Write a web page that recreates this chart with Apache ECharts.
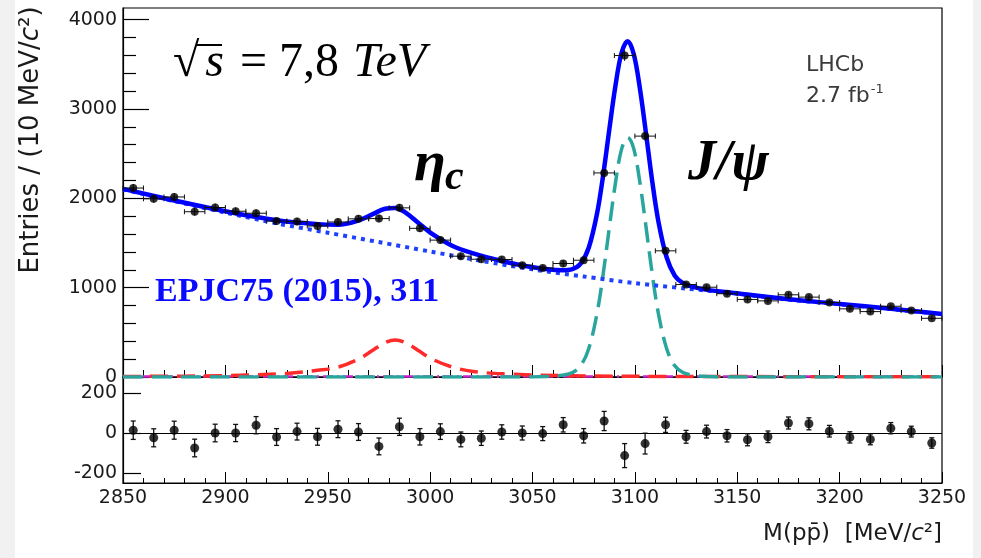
<!DOCTYPE html>
<html>
<head>
<meta charset="utf-8">
<script src="https://cdn.jsdelivr.net/npm/echarts@6/dist/echarts.min.js"></script>
<style>
  html, body { margin: 0; padding: 0; }
  #chart {
    width: 981px; height: 558px;
    background: linear-gradient(to right, #f1f1f1 0, #f1f1f1 15px, #ffffff 15px, #ffffff 973px, #f1f1f1 973px);
  }
</style>
</head>
<body>
<div id="chart"></div>
<script>
// ---- p pbar invariant-mass spectrum, 10 MeV/c^2 bins ----
const binCentres = [2855, 2865, 2875, 2885, 2895, 2905, 2915, 2925, 2935, 2945,
                    2955, 2965, 2975, 2985, 2995, 3005, 3015, 3025, 3035, 3045,
                    3055, 3065, 3075, 3085, 3095, 3105, 3115, 3125, 3135, 3145,
                    3155, 3165, 3175, 3185, 3195, 3205, 3215, 3225, 3235, 3245];
const binHalfWidth = 5;
const entries = [2115, 1995, 2015, 1850, 1897, 1855, 1833, 1745, 1740, 1690,
                 1735, 1770, 1773, 1893, 1664, 1532, 1352, 1318, 1315, 1251,
                 1220, 1270, 1307, 2284, 3598, 2696, 1412, 1035, 1005, 932,
                 868, 852, 920, 894, 834, 763, 732, 792, 744, 657];
const entryErrors = [46, 45, 45, 44, 44, 43, 43, 42, 42, 42,
                     42, 42, 42, 43, 41, 39, 37, 36, 36, 35,
                     35, 36, 36, 48, 60, 52, 38, 32, 32, 31,
                     30, 29, 30, 30, 29, 28, 27, 28, 27, 26];
// data minus fit, lower panel
const residuals = [14, -24, 14, -75, 0, 0, 39, -20, 7, -19,
                   19, 5, -67, 31, -19, 7, -32, -26, 5, 0,
                   -3, 41, -14, 60, -113, -53, 41, -19, 7, -14,
                   -34, -19, 50, 46, 9, -22, -32, 24, 7, -50];

// fit components, [mass, entries]
const backgroundCurve = [[2850, 2100], [2875, 1968], [2900, 1840], [2925, 1720], [2950, 1615],
                         [2975, 1510], [3000, 1405], [3025, 1300], [3050, 1205], [3075, 1125],
                         [3100, 1050], [3125, 990], [3150, 932], [3175, 866], [3200, 815],
                         [3225, 760], [3250, 704]];
const etacCurve = [[2850, 6], [2900, 15], [2930, 40], [2945, 75], [2955, 110], [2965, 200],
                   [2972, 300], [2978, 385], [2983, 415], [2988, 385], [2994, 300], [3001, 200],
                   [3011, 110], [3021, 62], [3036, 35], [3066, 15], [3120, 6], [3250, 3]];
const jpsiCurve = [[2850, 0], [3046.5, 0], [3058.5, 5], [3064.5, 20], [3069.5, 50], [3073.5, 125],
                   [3077.5, 320], [3081.5, 710], [3084.5, 1150], [3087.5, 1670], [3090.5, 2170],
                   [3093.5, 2550], [3096.5, 2680], [3099.5, 2550], [3102.5, 2170], [3105.5, 1670],
                   [3108.5, 1150], [3111.5, 710], [3115.5, 320], [3119.5, 125], [3123.5, 50],
                   [3128.5, 20], [3134.5, 5], [3146.5, 0], [3250, 0]];
const otherCurve = [[2850, 6], [3250, 6]];
const totalCurve = [[2850, 2106], [2875, 1976], [2900, 1855], [2925, 1755], [2945, 1711],
                    [2955, 1704], [2965, 1752], [2972, 1823], [2978, 1883], [2983, 1892],
                    [2988, 1840], [2994, 1730], [3001, 1601], [3011, 1466], [3021, 1383],
                    [3036, 1293], [3046.5, 1243], [3058.5, 1202], [3064.5, 1195], [3069.5, 1207],
                    [3073.5, 1268], [3077.5, 1450], [3081.5, 1827], [3084.5, 2257], [3087.5, 2768],
                    [3090.5, 3258], [3093.5, 3629], [3096.5, 3759], [3099.5, 3610], [3102.5, 3222],
                    [3105.5, 2715], [3108.5, 2187], [3111.5, 1739], [3115.5, 1340], [3119.5, 1134],
                    [3123.5, 1050], [3128.5, 1008], [3134.5, 978], [3146.5, 945], [3175, 870],
                    [3200, 818], [3225, 763], [3250, 706]];

// axis ticks
const massRange = [2850, 3250];
const massStep = 50;
const countTicks = [0, 1000, 2000, 3000, 4000];
const countMax = 4130;
const residualTicks = [-200, 0, 200];
const residualRange = [-250, 280];

const AXIS_FONT = 'DejaVu Sans';
const plainNumber = v => String(v);
const chart = echarts.init(document.getElementById('chart'), null, { renderer: 'canvas' });

const gridLeft = 123, gridWidth = 819, upperTop = 8, upperHeight = 369, lowerHeight = 106;
const tickGridHeight = upperHeight * countTicks[countTicks.length - 1] / countMax;

function dataPointBars(params, api) {
  const x = api.value(0), y = api.value(1), e = api.value(2);
  const l = api.coord([x - binHalfWidth, y]);
  const r = api.coord([x + binHalfWidth, y]);
  const t = api.coord([x, y + e]);
  const b = api.coord([x, y - e]);
  const style = { stroke: '#111', lineWidth: 1 };
  return {
    type: 'group',
    children: [
      { type: 'line', shape: { x1: l[0], y1: l[1], x2: r[0], y2: r[1] }, style },
      { type: 'line', shape: { x1: l[0], y1: l[1] - 2.5, x2: l[0], y2: l[1] + 2.5 }, style },
      { type: 'line', shape: { x1: r[0], y1: r[1] - 2.5, x2: r[0], y2: r[1] + 2.5 }, style },
      { type: 'line', shape: { x1: t[0], y1: t[1], x2: b[0], y2: b[1] }, style }
    ]
  };
}

function residualBars(params, api) {
  const x = api.value(0), y = api.value(1), e = api.value(2);
  const t = api.coord([x, y + e]);
  const b = api.coord([x, y - e]);
  const style = { stroke: '#111', lineWidth: 1.3 };
  return {
    type: 'group',
    children: [
      { type: 'line', shape: { x1: t[0], y1: t[1], x2: b[0], y2: b[1] }, style },
      { type: 'line', shape: { x1: t[0] - 2.5, y1: t[1], x2: t[0] + 2.5, y2: t[1] }, style },
      { type: 'line', shape: { x1: b[0] - 2.5, y1: b[1], x2: b[0] + 2.5, y2: b[1] }, style }
    ]
  };
}

const massAxisBase = {
  type: 'value', min: massRange[0], max: massRange[1], interval: massStep,
  axisLine: { show: true, onZero: false, lineStyle: { color: '#000', width: 1.2 } },
  splitLine: { show: false }
};

const option = {
  animation: false,
  grid: [
    { left: gridLeft, top: upperTop, width: gridWidth, height: upperHeight, show: true, borderColor: '#000', borderWidth: 1.2, backgroundColor: 'transparent' },
    { left: gridLeft, top: upperTop + upperHeight, width: gridWidth, height: lowerHeight, show: true, borderColor: '#000', borderWidth: 1.2, backgroundColor: 'transparent' },
    { left: gridLeft, top: upperTop + upperHeight - tickGridHeight, width: gridWidth, height: tickGridHeight, show: false }
  ],
  xAxis: [
    Object.assign({}, massAxisBase, {
      gridIndex: 0,
      axisLabel: { show: false },
      axisTick: { inside: true, length: 12, lineStyle: { color: '#000' } },
      minorTick: { show: true, splitNumber: 5, length: 7, lineStyle: { color: '#000' } }
    }),
    Object.assign({}, massAxisBase, {
      gridIndex: 1,
      axisLabel: { show: true, formatter: plainNumber, fontFamily: AXIS_FONT, fontSize: 19, color: '#1a1a1a', margin: 6 },
      axisTick: { inside: true, length: 11, lineStyle: { color: '#000' } },
      minorTick: { show: true, splitNumber: 5, length: 5, lineStyle: { color: '#000' } }
    }),
    Object.assign({}, massAxisBase, { gridIndex: 2, show: false })
  ],
  yAxis: [
    {
      type: 'value', gridIndex: 0, min: 0, max: countMax,
      axisLine: { show: true, lineStyle: { color: '#000', width: 1.2 } },
      axisTick: { show: false }, axisLabel: { show: false }, splitLine: { show: false }
    },
    {
      type: 'value', gridIndex: 1, min: residualRange[0], max: residualRange[1],
      axisLine: { show: true, lineStyle: { color: '#000', width: 1.2 } },
      axisTick: { show: true, inside: true, length: 18, customValues: residualTicks, lineStyle: { color: '#000', width: 1.2 } },
      axisLabel: { show: true, customValues: residualTicks, formatter: plainNumber, fontFamily: AXIS_FONT, fontSize: 19, color: '#1a1a1a', margin: 6 },
      splitLine: { show: false }
    },
    {
      type: 'value', gridIndex: 2, min: countTicks[0], max: countTicks[countTicks.length - 1], interval: 1000,
      axisLine: { show: false },
      axisTick: { show: true, inside: true, length: 26, lineStyle: { color: '#000', width: 1.2 } },
      minorTick: { show: true, splitNumber: 5, length: 13, lineStyle: { color: '#000', width: 1.2 } },
      axisLabel: { show: true, formatter: plainNumber, fontFamily: AXIS_FONT, fontSize: 19, color: '#1a1a1a', margin: 6 },
      splitLine: { show: false }
    }
  ],
  series: [
    { name: 'other', type: 'line', xAxisIndex: 0, yAxisIndex: 0, data: otherCurve, showSymbol: false,
      lineStyle: { color: '#cc22cc', width: 2.5, type: [10, 4, 2, 4] }, z: 2 },
    { name: 'etac', type: 'line', xAxisIndex: 0, yAxisIndex: 0, data: etacCurve, showSymbol: false, smooth: 0.35,
      lineStyle: { color: '#ff2a2a', width: 3.5, type: [18, 9] }, z: 3 },
    { name: 'jpsi', type: 'line', xAxisIndex: 0, yAxisIndex: 0, data: jpsiCurve, showSymbol: false, smooth: 0.35,
      lineStyle: { color: '#2aa59d', width: 3.5, type: [20, 9] }, z: 3 },
    { name: 'background', type: 'line', xAxisIndex: 0, yAxisIndex: 0, data: backgroundCurve, showSymbol: false, smooth: 0.3,
      lineStyle: { color: '#2040ff', width: 4, type: [4, 5] }, z: 4 },
    { name: 'total', type: 'line', xAxisIndex: 0, yAxisIndex: 0, data: totalCurve, showSymbol: false, smooth: 0.35,
      lineStyle: { color: '#0000ff', width: 4.5 }, z: 5 },
    { name: 'dataBars', type: 'custom', xAxisIndex: 0, yAxisIndex: 0,
      data: binCentres.map((m, i) => [m, entries[i], entryErrors[i]]), renderItem: dataPointBars, z: 6 },
    { name: 'data', type: 'scatter', xAxisIndex: 0, yAxisIndex: 0,
      data: binCentres.map((m, i) => [m, entries[i]]), symbolSize: 8, itemStyle: { color: '#000' }, z: 7 },
    { name: 'residualBars', type: 'custom', xAxisIndex: 1, yAxisIndex: 1,
      data: binCentres.map((m, i) => [m, residuals[i], entryErrors[i]]), renderItem: residualBars, z: 6 },
    { name: 'residuals', type: 'scatter', xAxisIndex: 1, yAxisIndex: 1,
      data: binCentres.map((m, i) => [m, residuals[i]]), symbolSize: 9, itemStyle: { color: '#000' }, z: 7,
      markLine: { silent: true, symbol: 'none', label: { show: false },
        lineStyle: { color: '#000', width: 1.2, type: 'solid' }, data: [{ yAxis: 0 }] } }
  ],
  graphic: [
    { type: 'text', x: 31, y: 140, rotation: Math.PI / 2,
      style: { text: '{n|Entries / (10 MeV/}{i|c}{n|²)}', align: 'center', verticalAlign: 'middle',
        rich: { n: { fontFamily: AXIS_FONT, fontSize: 26, fill: '#1a1a1a' },
                i: { fontFamily: AXIS_FONT, fontStyle: 'italic', fontSize: 26, fill: '#1a1a1a' } } } },
    { type: 'text', x: 942, y: 534,
      style: { text: '{n|M(pp̄)  [MeV/}{i|c}{n|²]}', align: 'right', verticalAlign: 'middle',
        rich: { n: { fontFamily: AXIS_FONT, fontSize: 23, fill: '#1a1a1a' },
                i: { fontFamily: AXIS_FONT, fontStyle: 'italic', fontSize: 23, fill: '#1a1a1a' } } } },
    { type: 'text', x: 806, y: 65,
      style: { text: 'LHCb', fontFamily: AXIS_FONT, fontSize: 22, fill: '#3a3a3a', align: 'left', verticalAlign: 'middle' } },
    { type: 'text', x: 806, y: 96,
      style: { text: '{n|2.7 fb}{s|-1}', align: 'left', verticalAlign: 'middle',
        rich: { n: { fontFamily: AXIS_FONT, fontSize: 22, fill: '#3a3a3a' },
                s: { fontFamily: AXIS_FONT, fontSize: 13, fill: '#3a3a3a', padding: [0, 0, 12, 1] } } } },
    { type: 'text', x: 173, y: 63,
      style: { text: '{r|√}{s|s}{e|= 7,8}{t|TeV}', align: 'left', verticalAlign: 'middle',
        rich: { r: { fontFamily: 'Liberation Serif', fontSize: 48, fill: '#000' },
                s: { fontFamily: 'Liberation Serif', fontStyle: 'italic', fontSize: 48, fill: '#000', padding: [0, 0, 0, 6] },
                e: { fontFamily: 'Liberation Serif', fontSize: 48, fill: '#000', padding: [0, 0, 0, 16] },
                t: { fontFamily: 'Liberation Serif', fontStyle: 'italic', fontSize: 48, fill: '#000', padding: [0, 0, 0, 14] } } } },
    { type: 'line', shape: { x1: 196, y1: 45, x2: 222, y2: 45 }, style: { stroke: '#000', lineWidth: 2 } },
    { type: 'text', x: 414, y: 165,
      style: { text: 'η', fontFamily: 'Liberation Serif', fontStyle: 'italic', fontWeight: 'bold', fontSize: 58, fill: '#000', align: 'left', verticalAlign: 'middle' } },
    { type: 'text', x: 445, y: 178,
      style: { text: 'c', fontFamily: 'Liberation Serif', fontStyle: 'italic', fontWeight: 'bold', fontSize: 42, fill: '#000', align: 'left', verticalAlign: 'middle' } },
    { type: 'text', x: 688, y: 165,
      style: { text: 'J/ψ', fontFamily: 'Liberation Serif', fontStyle: 'italic', fontWeight: 'bold', fontSize: 56, fill: '#000', align: 'left', verticalAlign: 'middle' } },
    { type: 'text', x: 155, y: 292,
      style: { text: 'EPJC75 (2015), 311', fontFamily: 'Liberation Serif', fontWeight: 'bold', fontSize: 34, fill: '#0a0aff', align: 'left', verticalAlign: 'middle' } }
  ]
};

chart.setOption(option);
</script>
</body>
</html>
